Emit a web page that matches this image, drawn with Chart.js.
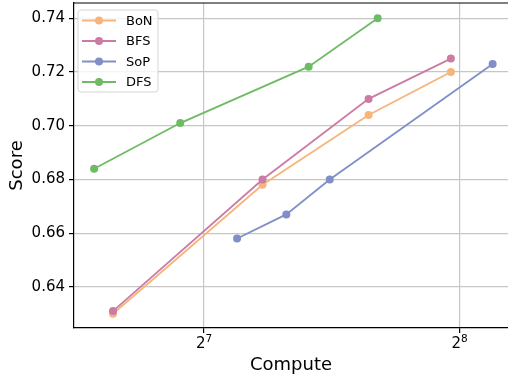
<!DOCTYPE html>
<html>
<head>
<meta charset="utf-8">
<script src="https://cdn.jsdelivr.net/npm/chart.js@4/dist/chart.umd.min.js"></script>
<style>
  html, body { margin: 0; padding: 0; background: #fff; }
  canvas { display: block; }
</style>
</head>
<body>
<canvas id="chart" width="508" height="376"></canvas>
<script>
const seriesNames = ['BoN', 'BFS', 'SoP', 'DFS'];
const seriesColors = ['#f5b57b', '#cc7ba4', '#808fc7', '#6fbb65'];

const bonX = [100, 150, 200, 250];
const bonY = [0.630, 0.678, 0.704, 0.720];
const bfsX = [100, 150, 200, 250];
const bfsY = [0.631, 0.680, 0.710, 0.725];
const sopX = [140, 160, 180, 280];
const sopY = [0.658, 0.667, 0.680, 0.723];
const dfsX = [95, 120, 170, 205];
const dfsY = [0.684, 0.701, 0.722, 0.740];

const xTickValues = [128, 256];
const xTickBase = ['2', '2'];
const xTickExp = ['7', '8'];
const yTickValues = [0.64, 0.66, 0.68, 0.70, 0.72, 0.74];

const xs = [bonX, bfsX, sopX, dfsX];
const ys = [bonY, bfsY, sopY, dfsY];

const FONT = 'DejaVu Sans';

// matplotlib-like legend box with line + marker
const legendPlugin = {
    id: 'mplLegend',
    afterDraw(chart) {
        const ctx = chart.ctx;
        const area = chart.chartArea;
        const x0 = area.left + 4, y0 = area.top + 7;
        const w = 80, rowH = 20.5, h = 82;
        ctx.save();
        ctx.beginPath();
        ctx.roundRect(x0, y0, w, h, 3);
        ctx.fillStyle = 'rgba(255,255,255,0.8)';
        ctx.fill();
        ctx.strokeStyle = '#d5d5d5';
        ctx.lineWidth = 1;
        ctx.stroke();
        ctx.font = '13px "' + FONT + '"';
        ctx.textBaseline = 'middle';
        chart.data.datasets.forEach((ds, i) => {
            const cy = y0 + 10.5 + i * rowH;
            ctx.strokeStyle = ds.borderColor;
            ctx.lineWidth = 1.8;
            ctx.beginPath();
            ctx.moveTo(x0 + 4, cy);
            ctx.lineTo(x0 + 38, cy);
            ctx.stroke();
            ctx.fillStyle = ds.backgroundColor;
            ctx.beginPath();
            ctx.arc(x0 + 21, cy, 4, 0, Math.PI * 2);
            ctx.fill();
            ctx.fillStyle = '#000';
            ctx.fillText(ds.label, x0 + 48, cy + 1);
        });
        ctx.restore();
    }
};

// top spine + power-of-two tick labels with a raised exponent
const axisPlugin = {
    id: 'axisExtras',
    afterDraw(chart) {
        const ctx = chart.ctx;
        const a = chart.chartArea;
        const xs = chart.scales.x;
        ctx.save();
        ctx.strokeStyle = '#000';
        ctx.lineWidth = 1.2;
        ctx.beginPath();
        ctx.moveTo(a.left, a.top);
        ctx.lineTo(a.right, a.top);
        ctx.stroke();
        ctx.fillStyle = '#000';
        ctx.textBaseline = 'alphabetic';
        ctx.textAlign = 'left';
        xTickValues.forEach((v, i) => {
            const px = xs.getPixelForValue(v);
            ctx.font = '15px "' + FONT + '"';
            const bw = ctx.measureText(xTickBase[i]).width;
            ctx.font = '10.5px "' + FONT + '"';
            const ew = ctx.measureText(xTickExp[i]).width;
            const left = px - (bw + ew) / 2;
            const base = a.bottom + 20;
            ctx.font = '15px "' + FONT + '"';
            ctx.fillText(xTickBase[i], left, base);
            ctx.font = '10.5px "' + FONT + '"';
            ctx.fillText(xTickExp[i], left + bw, base - 6);
        });
        ctx.restore();
    }
};

const datasets = seriesNames.map((name, i) => ({
    label: name,
    data: xs[i].map((x, j) => ({ x: x, y: ys[i][j] })),
    borderColor: seriesColors[i],
    backgroundColor: seriesColors[i],
    pointBackgroundColor: seriesColors[i],
    pointBorderWidth: 0,
    pointRadius: 4,
    borderWidth: 1.8,
    tension: 0,
    order: seriesNames.length - i,
}));

new Chart(document.getElementById('chart'), {
    type: 'line',
    data: { datasets: datasets },
    plugins: [legendPlugin, axisPlugin],
    options: {
        responsive: false,
        animation: false,
        devicePixelRatio: 1,
        layout: { autoPadding: false, padding: { top: 3, left: 0, right: 0, bottom: 0 } },
        plugins: { legend: { display: false }, tooltip: { enabled: false } },
        scales: {
            x: {
                type: 'logarithmic',
                min: 89.96,
                max: 291.9,
                afterBuildTicks: s => { s.ticks = xTickValues.map(v => ({ value: v })); },
                afterFit: s => { s.height = 48; s.paddingLeft = 0; s.paddingRight = 0; },
                ticks: {
                    callback: (v, i) => xTickBase[i] + xTickExp[i],
                    color: 'rgba(0,0,0,0)',
                    font: { family: FONT, size: 15 },
                    padding: 1,
                    maxRotation: 0,
                    autoSkip: false,
                },
                grid: { color: '#c6c6c6', lineWidth: 1.2, tickLength: 5, tickColor: '#000' },
                border: { color: '#000', width: 1.2 },
                title: {
                    display: true,
                    text: 'Compute',
                    color: '#000',
                    font: { family: FONT, size: 18 },
                    padding: { top: 0, bottom: 0 },
                },
            },
            y: {
                type: 'linear',
                min: 0.6247,
                max: 0.7457,
                afterBuildTicks: s => { s.ticks = yTickValues.map(v => ({ value: v })); },
                afterFit: s => { s.width = 74; s.paddingTop = 0; s.paddingBottom = 0; },
                ticks: {
                    callback: v => v.toFixed(2),
                    color: '#000',
                    font: { family: FONT, size: 15 },
                    padding: 4,
                },
                grid: { color: '#c6c6c6', lineWidth: 1.2, tickLength: 5, tickColor: '#000' },
                border: { color: '#000', width: 1.2 },
                title: {
                    display: true,
                    text: 'Score',
                    color: '#000',
                    font: { family: FONT, size: 18 },
                    padding: { top: 7, bottom: 0 },
                },
            },
        },
    },
});
</script>
</body>
</html>
